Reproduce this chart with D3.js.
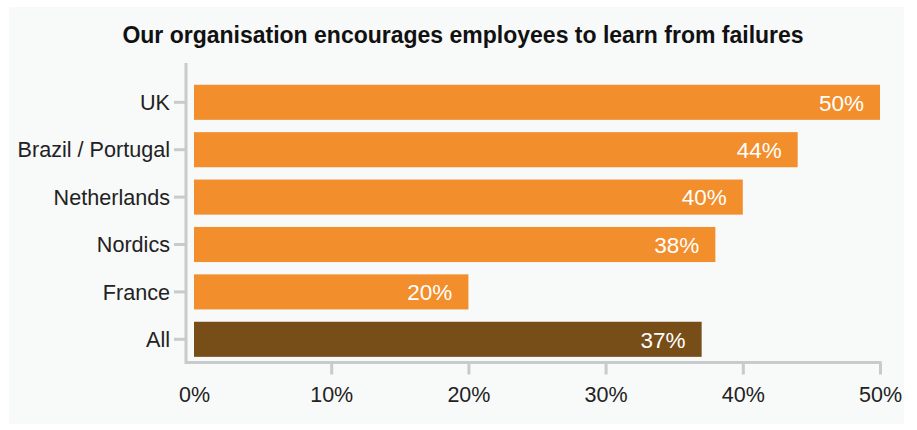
<!DOCTYPE html>
<html>
<head>
<meta charset="utf-8">
<script src="https://cdn.jsdelivr.net/npm/d3@7"></script>
<style>
  html, body { margin: 0; padding: 0; background: #ffffff; }
  svg { display: block; }
  text { font-family: "Liberation Sans", Arial, Helvetica, sans-serif; }
</style>
</head>
<body>
<svg id="chart" width="917" height="430"></svg>
<script>
// Share of employees agreeing, by region
const title = "Our organisation encourages employees to learn from failures";
const categories = ["UK", "Brazil / Portugal", "Netherlands", "Nordics", "France", "All"];
const values = [50, 44, 40, 38, 20, 37];
const tickValues = [0, 10, 20, 30, 40, 50];

const W = 917, H = 430;
const svg = d3.select("#chart");

const panel = { x0: 9, y0: 7, x1: 904, y1: 424 };
const plot = { left: 194, right: 880, top: 78.6, bottom: 363 };
const axisX = 186;      // vertical spine, offset left of the bars
const axisY = 362.5;    // horizontal spine
const spineTop = 63;

const orange = "#f28e2b";
const brown = "#774d18";
const grey = "#c9cacb";

svg.append("rect")
  .attr("x", panel.x0).attr("y", panel.y0)
  .attr("width", panel.x1 - panel.x0).attr("height", panel.y1 - panel.y0)
  .attr("fill", "#f8f9f9");

const x = d3.scaleLinear().domain([0, 50]).range([plot.left, plot.right]);
const y = d3.scaleBand().domain(categories).range([plot.top, plot.bottom])
  .paddingInner(0.26).paddingOuter(0.13);

// Title
svg.append("text")
  .attr("x", 463).attr("y", 43)
  .attr("text-anchor", "middle")
  .attr("font-size", 23)
  .attr("font-weight", 700)
  .attr("fill", "#111")
  .text(title);

// Bars
const data = categories.map((c, i) => ({ c, v: values[i] }));
svg.append("g").selectAll("rect").data(data).join("rect")
  .attr("x", x(0))
  .attr("y", d => y(d.c))
  .attr("width", d => x(d.v) - x(0))
  .attr("height", y.bandwidth())
  .attr("fill", d => d.c === "All" ? brown : orange);

// Value labels inside bar ends
svg.append("g").selectAll("text").data(data).join("text")
  .attr("x", d => x(d.v) - 16)
  .attr("y", d => y(d.c) + y.bandwidth() / 2 + 8.2)
  .attr("text-anchor", "end")
  .attr("font-size", 22.5)
  .attr("fill", "#ffffff")
  .text(d => d.v + "%");

// Spines
svg.append("path")
  .attr("d", `M${axisX},${spineTop}V${axisY}H${x(50) + 1.5}`)
  .attr("fill", "none")
  .attr("stroke", grey)
  .attr("stroke-width", 3);

// Y axis ticks and labels
const yAxis = svg.append("g").attr("transform", `translate(${axisX},0)`)
  .call(d3.axisLeft(y).tickSize(12).tickPadding(4));
yAxis.select(".domain").remove();
yAxis.selectAll(".tick line").attr("stroke", grey).attr("stroke-width", 3);
yAxis.selectAll(".tick text")
  .attr("font-size", 21.6).attr("fill", "#222")
  .attr("font-family", "Liberation Sans, Arial, sans-serif")
  .attr("dy", "0.36em");

// X axis ticks and labels
const xAxis = svg.append("g").attr("transform", `translate(0,${axisY})`)
  .call(d3.axisBottom(x).tickValues(tickValues).tickFormat(d => d + "%")
    .tickSize(12).tickPadding(12));
xAxis.select(".domain").remove();
xAxis.selectAll(".tick line").attr("stroke", grey).attr("stroke-width", 3)
  .filter(d => d === 0).remove();
xAxis.selectAll(".tick text")
  .attr("font-size", 21.5).attr("fill", "#222")
  .attr("font-family", "Liberation Sans, Arial, sans-serif");
</script>
</body>
</html>
